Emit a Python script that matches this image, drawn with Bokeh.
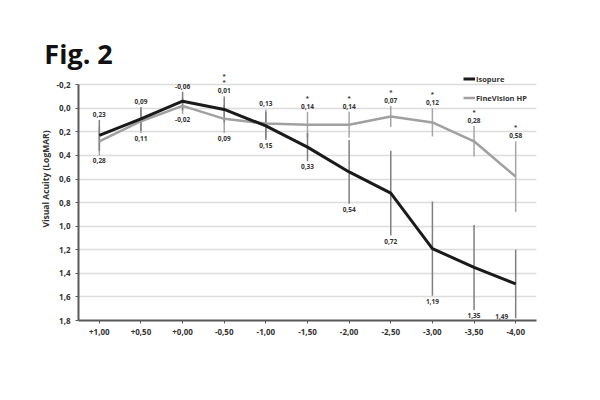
from bokeh.plotting import figure
from bokeh.models import (FactorRange, Range1d, ColumnDataSource, FixedTicker,
                          CustomJSTickFormatter, Legend, LegendItem, Label)
from bokeh.core.properties import value
from bokeh.embed import file_html
from bokeh.resources import INLINE

# ---- data ----
defocus = ["+1,00", "+0,50", "+0,00", "-0,50", "-1,00", "-1,50",
           "-2,00", "-2,50", "-3,00", "-3,50", "-4,00"]
isopure = [0.23, 0.09, -0.06, 0.01, 0.15, 0.33, 0.54, 0.72, 1.19, 1.35, 1.49]
isopure_sd = [0.13, 0.10, 0.08, 0.11, 0.12, 0.12, 0.27, 0.36, 0.40, 0.36, 0.29]
finevision = [0.28, 0.11, -0.02, 0.09, 0.13, 0.14, 0.14, 0.07, 0.12, 0.28, 0.58]
finevision_sd = [0.12, 0.10, 0.07, 0.12, 0.12, 0.11, 0.11, 0.09, 0.12, 0.13, 0.30]
significance = ["", "", "", "*\n*", "", "*", "*", "*", "*", "*", "*"]
y_ticks = [-0.2, 0.0, 0.2, 0.4, 0.6, 0.8, 1.0, 1.2, 1.4, 1.6, 1.8]

FONT = "Open Sans"
TXT = "#333333"

# the frame reaches above the axis (axis bounded to -0.2..1.8) so that the
# legend and significance marks above the top gridline are not clipped
p = figure(x_range=FactorRange(*defocus), y_range=Range1d(1.8, -0.6),
           frame_width=458, frame_height=283,
           min_border_left=78, min_border_right=48,
           min_border_top=37, min_border_bottom=64,
           output_backend="svg", toolbar_location=None)
p.outline_line_color = None
p.background_fill_color = "white"

# axes
p.yaxis.ticker = FixedTicker(ticks=y_ticks)
p.ygrid.ticker = FixedTicker(ticks=y_ticks)
p.yaxis.bounds = (y_ticks[0], y_ticks[-1])
p.yaxis.formatter = CustomJSTickFormatter(code="return tick.toFixed(1).replace('.', ',');")
p.xgrid.grid_line_color = None
p.ygrid.grid_line_color = "#dcdcdc"
p.ygrid.grid_line_width = 1.5
for ax in (p.xaxis, p.yaxis):
    ax.axis_line_color = "#595959"
    ax.axis_line_width = 2
    ax.major_tick_line_color = "#595959"
    ax.major_tick_in = 0
    ax.major_tick_out = 3
    ax.minor_tick_line_color = None
    ax.major_label_text_font = FONT
    ax.major_label_text_font_style = "bold"
    ax.major_label_text_color = TXT
    ax.major_label_text_font_size = "8px"
    ax.major_label_standoff = 5
p.yaxis.axis_label = "Visual Acuity (LogMAR)"
p.yaxis.axis_label_text_font = FONT
p.yaxis.axis_label_text_font_style = "bold"
p.yaxis.axis_label_text_font_size = "8.5px"
p.yaxis.axis_label_text_color = TXT
p.yaxis.axis_label_standoff = 2

# error bars
iso_lo = [m - s for m, s in zip(isopure, isopure_sd)]
iso_hi = [m + s for m, s in zip(isopure, isopure_sd)]
fv_lo = [m - s for m, s in zip(finevision, finevision_sd)]
fv_hi = [m + s for m, s in zip(finevision, finevision_sd)]
p.segment(x0=defocus, y0=fv_lo, x1=defocus, y1=fv_hi, line_color="#a6a6a6", line_width=1.5)
p.segment(x0=defocus, y0=iso_lo, x1=defocus, y1=iso_hi, line_color="#7f7f7f", line_width=1.5)

# lines
r_fv = p.line(defocus, finevision, line_color="#a0a0a0", line_width=2.5)
r_iso = p.line(defocus, isopure, line_color="#1a1a1a", line_width=3)

# value labels: upper series labelled above its bar, lower series below
def fmt(v):
    return f"{v:.2f}".replace(".", ",")

up_y, up_t, lo_y, lo_t, lo_dx = [], [], [], [], []
for a, sa, b, sb in zip(isopure, isopure_sd, finevision, finevision_sd):
    (u, su), (l, sl) = ((a, sa), (b, sb)) if a <= b else ((b, sb), (a, sa))
    up_y.append(u - su)
    up_t.append(fmt(u))
    end = l + sl
    lo_y.append(min(end, 1.72))
    lo_t.append(fmt(l))
    lo_dx.append(-14 if end > 1.75 else 0)

up_src = ColumnDataSource(dict(x=defocus, y=up_y, t=up_t, s=significance))
lo_src = ColumnDataSource(dict(x=defocus, y=lo_y, t=lo_t, dx=lo_dx))
p.text(x="x", y="y", text="t", source=up_src, text_align="center", text_baseline="bottom",
       y_offset=-3, text_font=value(FONT), text_font_style="bold",
       text_font_size="6.5px", text_color=TXT)
p.text(x="x", y="y", text="t", source=lo_src, text_align="center", text_baseline="top",
       y_offset=3, x_offset="dx", text_font=value(FONT), text_font_style="bold",
       text_font_size="6.5px", text_color=TXT)
p.text(x="x", y="y", text="s", source=up_src, text_align="center", text_baseline="bottom",
       y_offset=-10, text_font=value(FONT), text_font_style="bold",
       text_font_size="6px", text_color=TXT, text_line_height=0.8)

# legend
legend = Legend(items=[LegendItem(label="Isopure", renderers=[r_iso]),
                       LegendItem(label="FineVision HP", renderers=[r_fv])],
                location=(385, 213), glyph_width=12, glyph_height=19,
                label_height=19, spacing=0, padding=0, margin=0, label_standoff=1,
                border_line_alpha=0, background_fill_alpha=0,
                label_text_font=FONT, label_text_font_style="bold",
                label_text_font_size="7.5px", label_text_color=TXT)
p.add_layout(legend)

# x axis label
p.add_layout(Label(x=202, y=-26, x_units="screen", y_units="screen", text="Defocus (D)",
                   text_align="center", text_baseline="middle", text_font=FONT,
                   text_font_style="bold", text_font_size="8px", text_color=TXT))

# figure title (overlay-level text so it may extend left of the frame)
p.text(x=[defocus[0]], y=[y_ticks[0]], text=["Fig. 2"], x_offset=-55, y_offset=-31,
       text_align="left", text_baseline="alphabetic", text_font=value(FONT),
       text_font_style="bold", text_font_size="27px", text_color="#111111",
       level="overlay")

open("out.html", "w").write(file_html(p, INLINE))
